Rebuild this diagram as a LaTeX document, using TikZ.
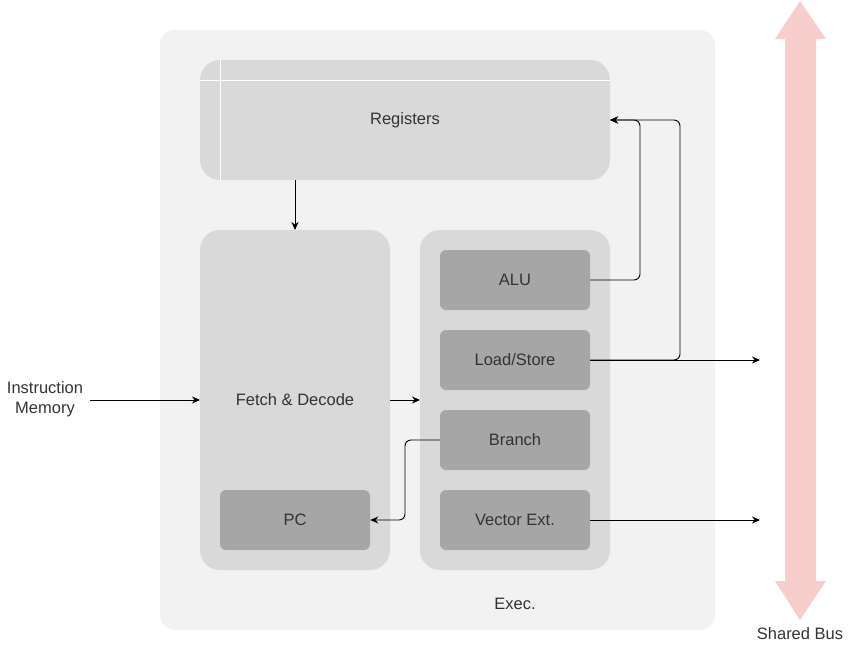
\documentclass[tikz,border=0pt]{standalone}
\usepackage{fontspec}
\setmainfont{Liberation Sans}
\usetikzlibrary{arrows.meta,shapes.arrows}
\definecolor{outerc}{HTML}{F2F2F2}
\definecolor{midc}{HTML}{D9D9D9}
\definecolor{darkc}{HTML}{A6A6A6}
\definecolor{txtc}{HTML}{333333}
\definecolor{busc}{HTML}{F8CECC}
\begin{document}
\begin{tikzpicture}[x=1pt,y=-1pt,
  lbl/.style={text=txtc,font=\fontsize{16.5}{20.5}\selectfont,align=center},
  unitbox/.style={fill=darkc,draw=none,rounded corners=6pt,minimum width=150pt,minimum height=60pt,text=txtc,font=\fontsize{16.5}{20.5}\selectfont},
  conn/.style={draw=black,line width=0.9pt,rounded corners=6pt,-{Stealth[length=8pt,width=7pt]}}]
\useasboundingbox (0,0) rectangle (851,651);
% outer container
\fill[outerc,rounded corners=15pt] (160,30) rectangle (715,630);
% registers
\fill[midc,rounded corners=20pt] (200,60) rectangle (610,180);
\draw[white,line width=0.8pt] (200,80) -- (610,80);
\draw[white,line width=0.8pt] (220,60) -- (220,180);
\node[lbl] (reg) at (405,120) {Registers};
\coordinate (regS) at (295,180);
\coordinate (regE) at (610,120);
% fetch & decode
\fill[midc,rounded corners=20pt] (200,230) rectangle (390,570);
\node[lbl] (fd) at (295,400) {Fetch \& Decode};
\coordinate (fdN) at (295,230);
\coordinate (fdW) at (200,400);
\coordinate (fdE) at (390,400);
\node[unitbox] (pc) at (295,520) {PC};
% exec
\fill[midc,rounded corners=20pt] (420,230) rectangle (610,570);
\coordinate (exW) at (420,400);
\node[lbl] (exl) at (515,604) {Exec.};
\node[unitbox] (alu) at (515,280) {ALU};
\node[unitbox] (ls) at (515,360) {Load/Store};
\node[unitbox] (br) at (515,440) {Branch};
\node[unitbox] (ve) at (515,520) {Vector Ext.};
% bus
\fill[busc] (800,1) -- (826,39) -- (816,39) -- (816,581) -- (826,581) -- (800,620) -- (775,581) -- (785,581) -- (785,39) -- (775,39) -- cycle;
\node[lbl] (bus) at (800,634) {Shared Bus};
\coordinate (bus1) at (760,360);
\coordinate (bus2) at (760,520);
% instruction memory
\node[lbl] (im) at (45,399) {Instruction\\Memory};
\coordinate (imE) at (90,400);
% connectors
\draw[conn] (imE) -- (fdW);
\draw[conn] (fdE) -- (exW);
\draw[conn] (regS) -- (fdN);
\draw[conn] (alu.east) -- (640,280) -- (640,120) -- (regE);
\draw[conn] (ls.east) -- (bus1);
\draw[conn] (ls.east) -- (680,360) -- (680,120) -- (regE);
\draw[conn] (br.west) -- (405,440) -- (405,520) -- (pc.east);
\draw[conn] (ve.east) -- (bus2);
\end{tikzpicture}
\end{document}
